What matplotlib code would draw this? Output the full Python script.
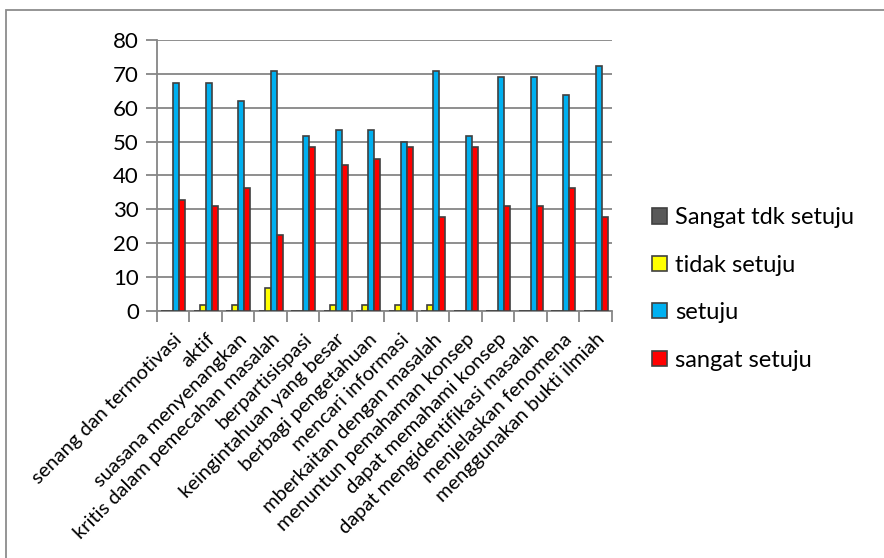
import numpy as np
import matplotlib
matplotlib.use('Agg')
import matplotlib.pyplot as plt
from matplotlib.patches import Rectangle

plt.rcParams['font.family'] = ['Lato', 'DejaVu Sans']

kategori = ['senang dan termotivasi', 'aktif', 'suasana menyenangkan',
            'kritis dalam pemecahan masalah', 'berpartisispasi',
            'keingintahuan yang besar', 'berbagi pengetahuan', 'mencari informasi',
            'mberkaitan dengan masalah', 'menuntun pemahaman konsep',
            'dapat memahami konsep', 'dapat mengidentifikasi masalah',
            'menjelaskan fenomena', 'menggunakan bukti ilmiah']

sangat_tdk_setuju = [0, 0, 0, 0, 0, 0, 0, 0, 0, 0, 0, 0, 0, 0]
tidak_setuju = [0, 1.7, 1.7, 6.9, 0, 1.7, 1.7, 1.7, 1.7, 0, 0, 0, 0, 0]
setuju = [67.2, 67.2, 62.1, 70.7, 51.7, 53.4, 53.4, 50.0, 70.7, 51.7, 69.0, 69.0, 63.8, 72.4]
sangat_setuju = [32.8, 31.0, 36.2, 22.4, 48.3, 43.1, 44.8, 48.3, 27.6, 48.3, 31.0, 31.0, 36.2, 27.6]

seri = [('Sangat tdk setuju', sangat_tdk_setuju, '#595959'),
        ('tidak setuju', tidak_setuju, '#ffff00'),
        ('setuju', setuju, '#00b0f0'),
        ('sangat setuju', sangat_setuju, '#ff0000')]

abu = '#868686'

fig = plt.figure(figsize=(8.84, 5.58), dpi=100)
ax = fig.add_axes([0.1776, 0.4427, 0.5147, 0.4857])

x = np.arange(len(kategori))
lebar = 0.185
for i, (nama, nilai, warna) in enumerate(seri):
    ax.bar(x + (i - 1.5) * lebar, nilai, lebar, color=warna, edgecolor='#404040',
           linewidth=1.2, label=nama, zorder=3)

ax.set_xlim(-0.5, len(kategori) - 0.5)
ax.set_ylim(0, 80)
ax.set_yticks(range(0, 81, 10))
ax.yaxis.grid(True, color=abu, linewidth=1.3, zorder=0)
ax.tick_params(axis='y', labelsize=16, length=8, width=1.3, color=abu, pad=5)

ax.set_xticks(x)
ax.set_xticklabels(kategori, rotation=45, ha='right', rotation_mode='anchor', fontsize=14.5)
ax.set_xticks(np.arange(-0.5, len(kategori)), minor=True)
ax.tick_params(axis='x', which='major', length=0, pad=14)
ax.tick_params(axis='x', which='minor', length=8, width=1.3, color=abu)

for s in ['top', 'right']:
    ax.spines[s].set_visible(False)
for s in ['left', 'bottom']:
    ax.spines[s].set_color(abu)
    ax.spines[s].set_linewidth(1.3)

fig.legend(loc='upper left', bbox_to_anchor=(631 / 884, 1 - 186 / 558), frameon=False,
           fontsize=17, handlelength=0.62, handleheight=0.62, handletextpad=0.35,
           labelspacing=1.12)

# bingkai luar
fig.patches.append(Rectangle((6 / 884, -0.1), 1.2, 1 - 10 / 558 + 0.1, transform=fig.transFigure,
                             fill=False, edgecolor='#8c8c8c', linewidth=1.3))

fig.savefig('out.png', dpi=100)
